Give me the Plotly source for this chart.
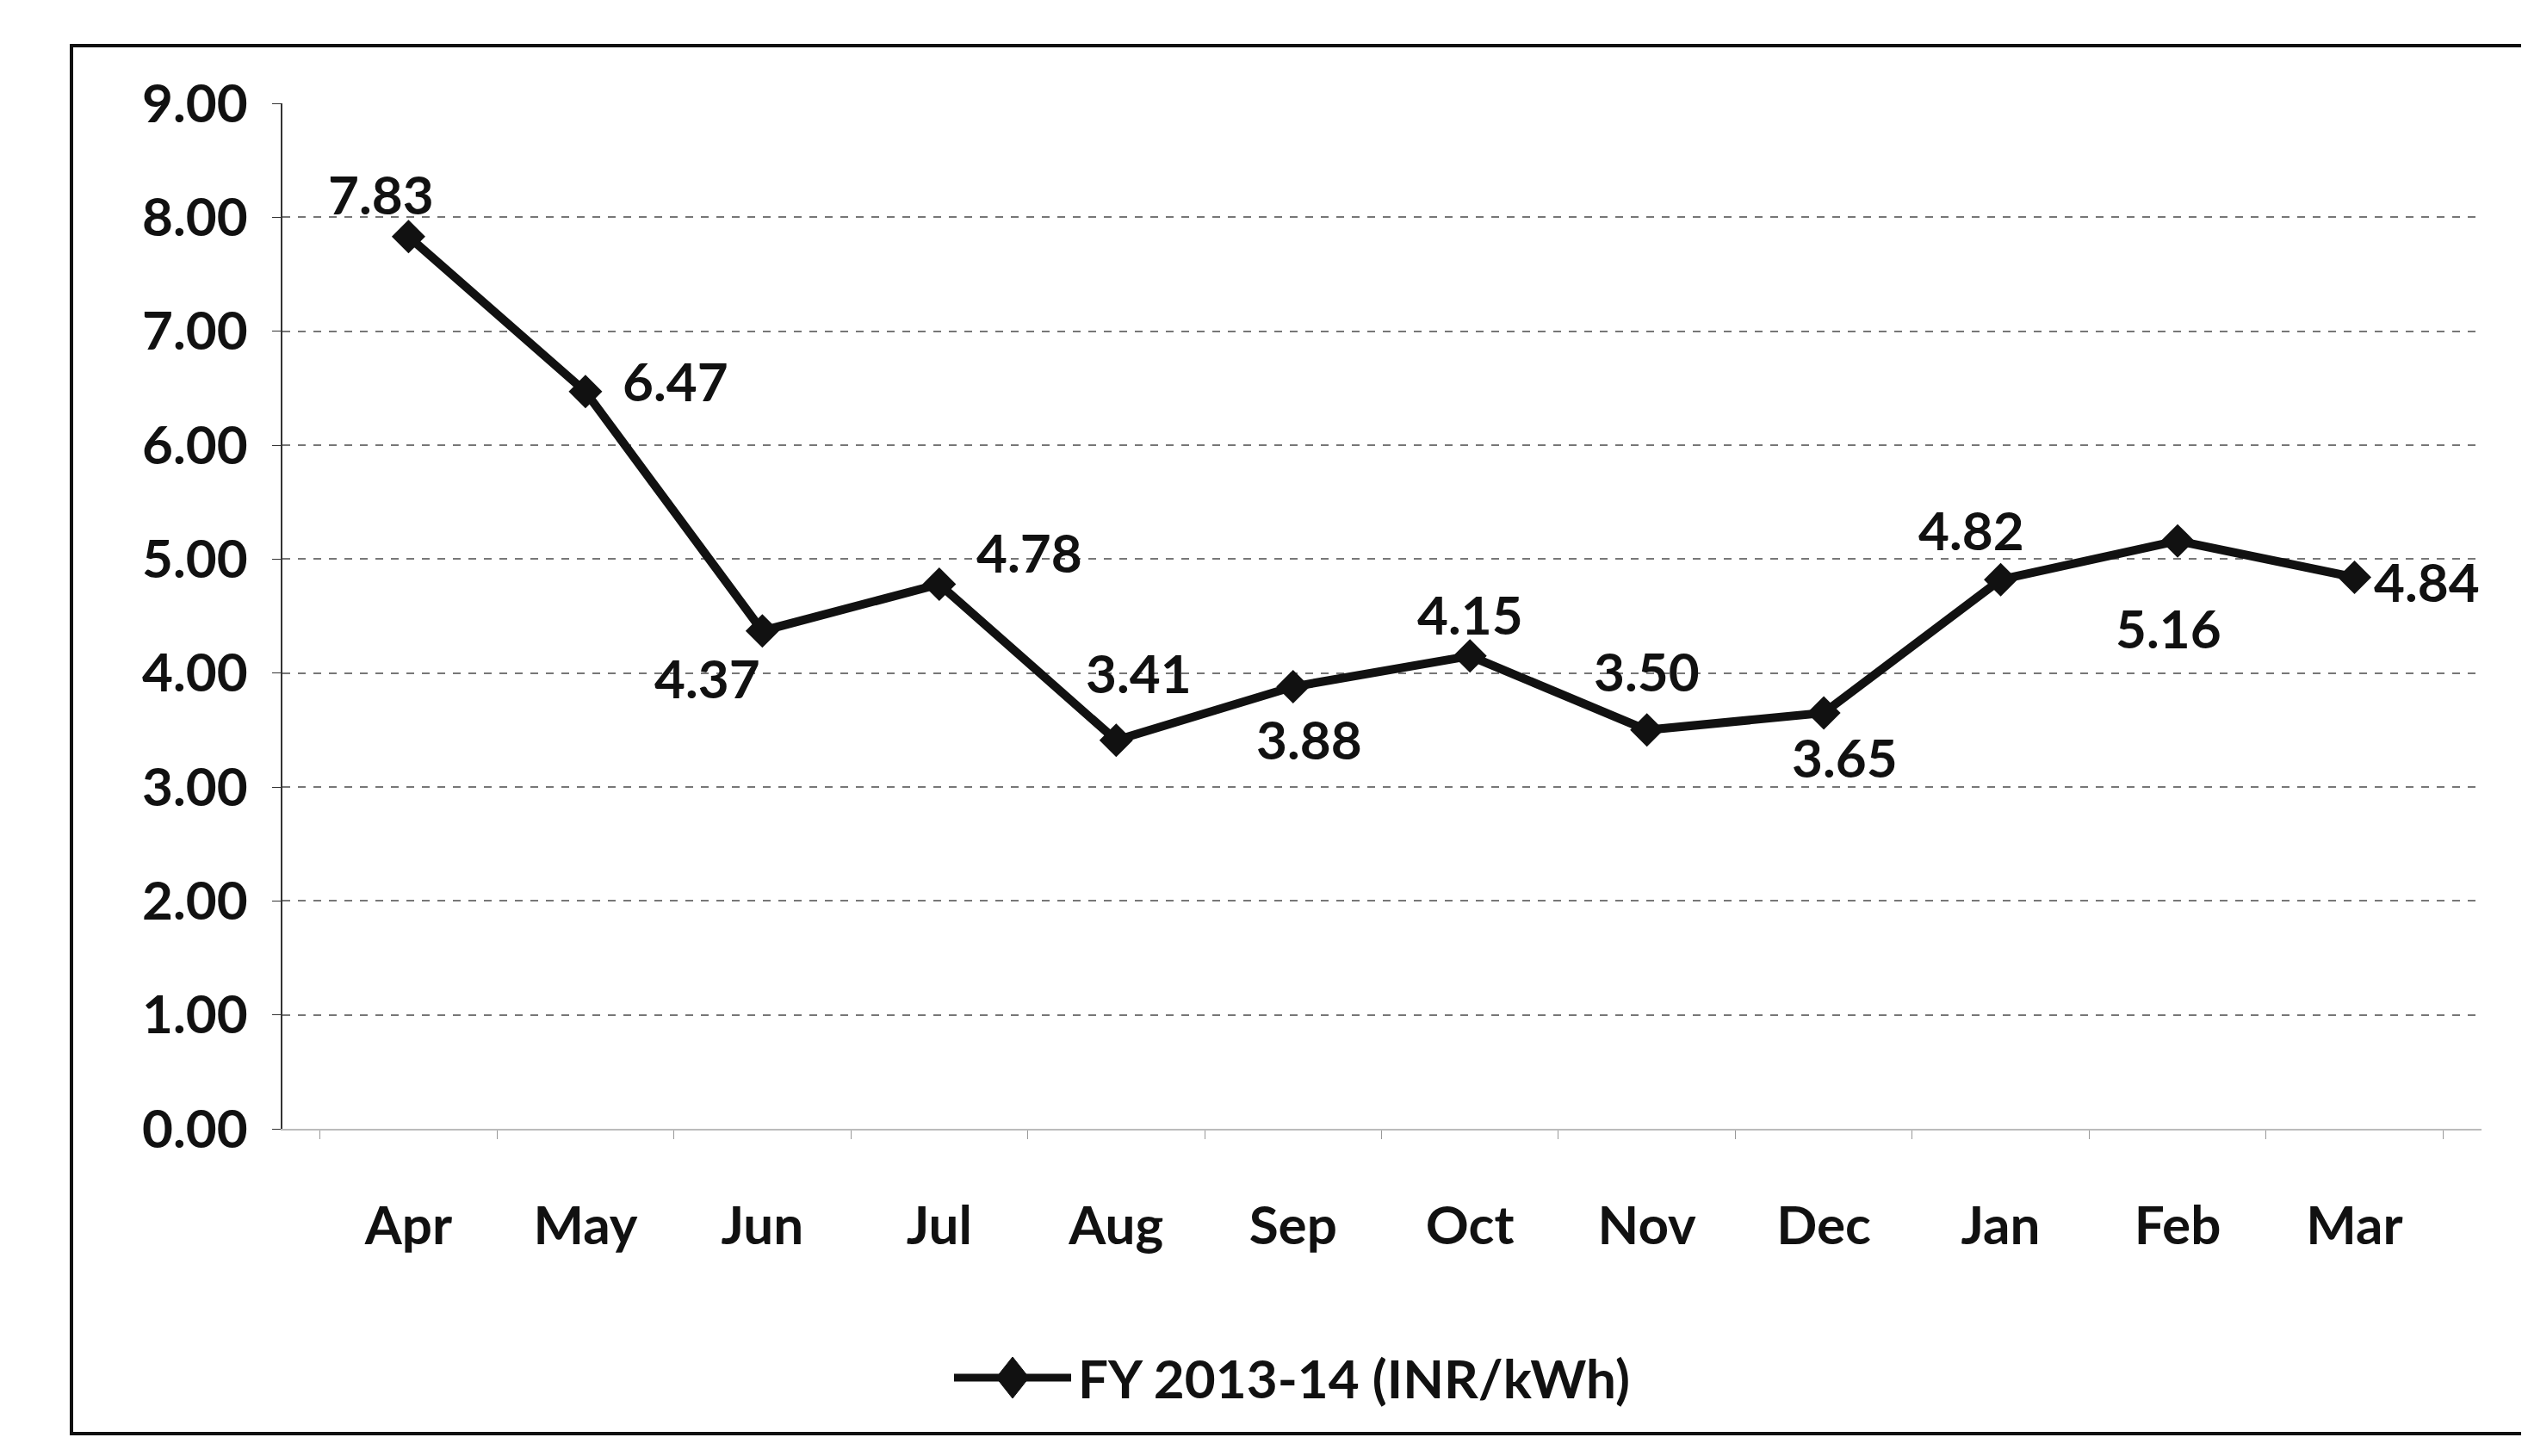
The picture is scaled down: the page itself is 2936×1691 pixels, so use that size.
import plotly.graph_objects as go

months = ["Apr", "May", "Jun", "Jul", "Aug", "Sep", "Oct", "Nov", "Dec", "Jan", "Feb", "Mar"]
values = [7.83, 6.47, 4.37, 4.78, 3.41, 3.88, 4.15, 3.50, 3.65, 4.82, 5.16, 4.84]
series_name = "FY 2013-14 (INR/kWh)"
y_ticks = [0, 1, 2, 3, 4, 5, 6, 7, 8, 9]

# data-label offsets from each point (pixels), as placed in the original
label_dx = [-32, 105, -64, 105, 26, 19, 0, 0, 24, -34, -11, 84]
label_dy = [-50, -13, 54, -37, -79, 60, -49, -69, 51, -58, 101, 4]

FONT = "Lato, 'Open Sans', 'DejaVu Sans', sans-serif"
FS = 62
INK = "#111111"

W, H = 2936, 1691
L, R, T, B = 320, 62, 112, 388
pw, ph = W - L - R, H - T - B


def px_x(p):
    return (p - L) / pw


def px_y(p):
    return (H - B - p) / ph


fig = go.Figure()
fig.add_trace(go.Scatter(
    x=months, y=values, name=series_name,
    mode="lines+markers",
    line=dict(color=INK, width=10),
    marker=dict(symbol="diamond", size=30, color=INK),
    cliponaxis=False,
    showlegend=False,
))

for m, v, dx, dy in zip(months, values, label_dx, label_dy):
    fig.add_annotation(x=m, y=v, xref="x", yref="y", text=f"<b>{v:.2f}</b>",
                       showarrow=False, xshift=dx, yshift=-dy,
                       font=dict(family=FONT, size=FS, color=INK))

# chart-area border
fig.add_shape(type="rect", xref="paper", yref="paper",
              x0=px_x(75), x1=px_x(2927), y0=px_y(1657), y1=px_y(45),
              line=dict(color=INK, width=4), fillcolor="rgba(0,0,0,0)", layer="below")

# legend (drawn manually for a wider key like the original)
ly = 1592
lx0, lx1 = 1100, 1236
cx = (lx0 + lx1) / 2
fig.add_shape(type="line", xref="paper", yref="paper",
              x0=px_x(lx0), x1=px_x(lx1), y0=px_y(ly), y1=px_y(ly),
              line=dict(color=INK, width=9))
dw, dh = 19, 24
path = (f"M {px_x(cx - dw)},{px_y(ly)} L {px_x(cx)},{px_y(ly - dh)} "
        f"L {px_x(cx + dw)},{px_y(ly)} L {px_x(cx)},{px_y(ly + dh)} Z")
fig.add_shape(type="path", xref="paper", yref="paper", path=path,
              fillcolor=INK, line=dict(color=INK, width=1))
fig.add_annotation(xref="paper", yref="paper", x=px_x(lx1 + 6), y=px_y(ly),
                   xanchor="left", yanchor="middle", showarrow=False,
                   text=f"<b>{series_name}</b>",
                   font=dict(family=FONT, size=FS, color=INK))

fig.update_layout(
    width=W, height=H,
    margin=dict(l=L, r=R, t=T, b=B),
    paper_bgcolor="white", plot_bgcolor="white",
    font=dict(family=FONT, size=FS, color=INK),
    showlegend=False,
    xaxis=dict(
        type="category", showgrid=False,
        showline=True, linecolor="#bbbbbb", linewidth=2,
        ticks="outside", ticklen=10, tickcolor="#999999", tickson="boundaries",
        tickfont=dict(family=FONT, size=FS, color=INK, weight="bold"),
        ticklabelstandoff=58,
    ),
    yaxis=dict(
        range=[0, 9], tickvals=y_ticks, tickformat=".2f",
        showgrid=True, gridcolor="#777777", gridwidth=2, griddash="dash",
        showline=True, linecolor="#333333", linewidth=2,
        ticks="outside", ticklen=10, tickcolor="#333333",
        tickfont=dict(family=FONT, size=FS, color=INK, weight="bold"),
        ticklabelstandoff=16, zeroline=False,
    ),
)

fig.write_html("out.html")
